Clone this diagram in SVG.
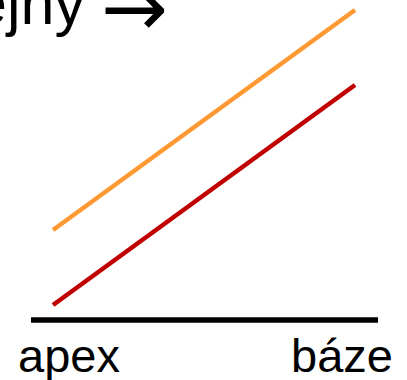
<svg xmlns="http://www.w3.org/2000/svg" width="407" height="380" viewBox="0 0 407 380">
<style>
.lbl{font-family:"Liberation Sans",Arial,sans-serif;fill:#000}
.ln{fill:none;stroke-width:4.5;stroke-linecap:butt}
</style>
<rect width="407" height="380" fill="#fff"/>
<g id="title"><text class="lbl" x="-27" y="24" font-size="61">ejný <tspan x="101" y="36" font-family="DejaVu Sans,sans-serif" font-size="80">→</tspan></text></g>
<g id="connectors">
<line class="ln" x1="53" y1="230" x2="355" y2="10" stroke="#ff9933"/>
<line class="ln" x1="53" y1="305" x2="355" y2="85" stroke="#c00000"/>
<line x1="31" y1="320" x2="378" y2="320" stroke="#000" stroke-width="5.5"/>
</g>
<g id="apex"><text class="lbl" x="18" y="372" font-size="47">apex</text></g>
<g id="baze"><text class="lbl" x="291" y="372" font-size="47">báze</text></g>
</svg>
